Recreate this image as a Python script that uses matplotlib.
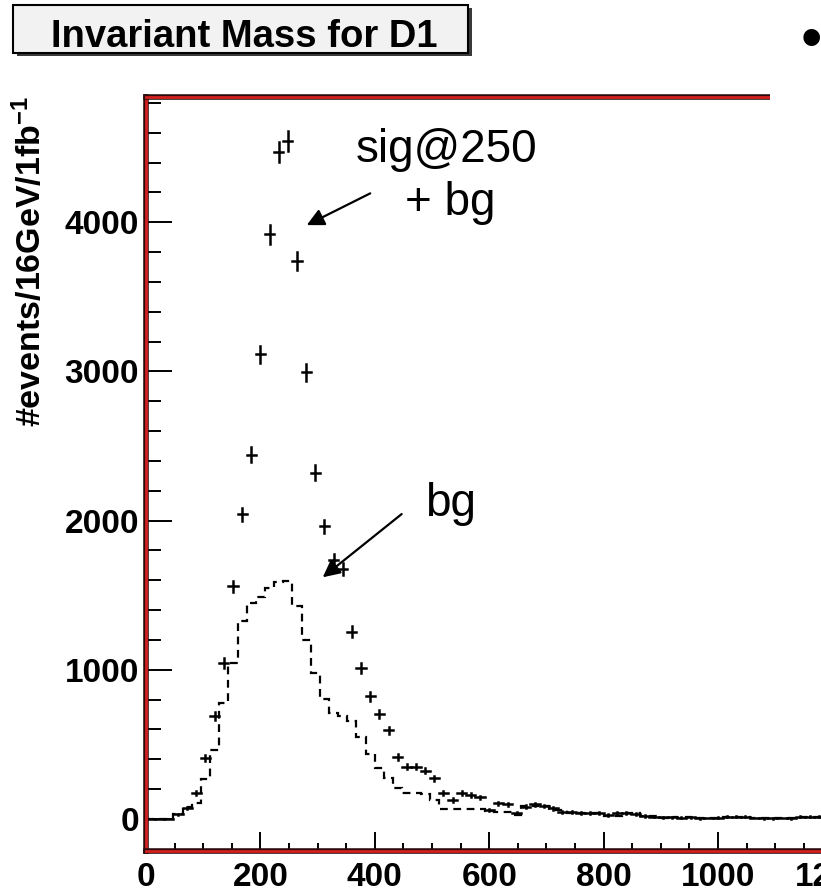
import matplotlib
matplotlib.use("Agg")
import matplotlib.pyplot as plt
import matplotlib.patheffects as pe
from matplotlib.patches import Rectangle
import numpy as np

plt.rcParams['font.family'] = ['Liberation Sans', 'DejaVu Sans']
plt.rcParams['mathtext.default'] = 'regular'

W, H = 821, 892

# 16 GeV bins from 0 to 1200 GeV
bin_edges = np.arange(0, 1200 + 16, 16)

# background only (dashed histogram)
bg = [0, 0, 0, 35, 80, 105, 270, 465, 780, 1045,
      1330, 1450, 1490, 1548, 1586, 1595, 1425, 1200, 980, 805,
      713, 690, 655, 548, 434, 340, 277, 210, 177, 177,
      170, 128, 65, 65, 65, 65, 65, 50, 49, 49,
      27, 85, 85, 85, 60, 60, 38, 38, 38, 38,
      20, 20, 38, 38, 20, 20, 9, 12, 9, 12,
      5, 5, 5, 15, 15, 15, 5, 5, 5, 5,
      5, 15, 15, 15, 15]

# signal at 250 GeV plus background (points with errors)
sig_bg = [0, 0, 0, 30, 72, 172, 407, 691, 1045, 1559,
          2042, 2443, 3114, 3919, 4472, 4546, 3740, 2993, 2322, 1962,
          1734, 1676, 1255, 1011, 821, 705, 593, 414, 351, 351,
          324, 273, 172, 128, 172, 160, 145, 60, 105, 100,
          38, 82, 100, 87, 70, 45, 45, 40, 40, 38,
          27, 40, 42, 35, 20, 15, 10, 12, 8, 12,
          5, 6, 8, 15, 14, 15, 6, 5, 5, 6,
          5, 14, 15, 15, 14]

bin_centers = bin_edges[:-1] + 8
sig_bg = np.array(sig_bg, dtype=float)


def fig_xy(x, y):
    # pixel position (from top-left) -> figure fraction
    return x / W, 1 - y / H


fig = plt.figure(figsize=(W / 100, H / 100), dpi=100)
ax_left, ax_top = fig_xy(146, 97)
_, ax_bottom = fig_xy(146, 851)
ax = fig.add_axes([ax_left, ax_bottom, 1600 * 0.572 / W, ax_top - ax_bottom])

ax.stairs(bg, bin_edges, color='black', lw=1.6, linestyle=(0, (3.5, 2.5)), baseline=None)
eb = ax.errorbar(bin_centers, sig_bg, xerr=8, yerr=np.sqrt(sig_bg), fmt='none',
                 ecolor='black', elinewidth=1.8, capsize=0)
for coll in eb[2]:
    coll.set_capstyle('projecting')

ax.set_xlim(0, 1600)
ax.set_ylim(-215, 4840)

ax.set_xticks(np.arange(0, 1601, 200))
ax.set_xticks(np.arange(0, 1601, 50), minor=True)
ax.set_yticks(np.arange(0, 4001, 1000))
ax.set_yticks(np.arange(0, 4801, 200), minor=True)
ax.tick_params(axis='both', which='both', direction='in', width=1.4, colors='black')
ax.tick_params(axis='x', which='major', length=14, pad=8, labelsize=24)
ax.tick_params(axis='x', which='minor', length=6)
ax.tick_params(axis='y', which='major', length=19, pad=5, labelsize=24)
ax.tick_params(axis='y', which='minor', length=11)
for lab in ax.get_xticklabels() + ax.get_yticklabels():
    lab.set_fontweight('bold')

# red frame with dark edges
for side in ['left', 'top', 'bottom']:
    sp = ax.spines[side]
    sp.set_color('#d42020')
    sp.set_linewidth(2)
    sp.set_path_effects([pe.Stroke(linewidth=4, foreground='#2a0a0a'), pe.Normal()])
ax.spines['right'].set_visible(False)

# y axis title
x0, y0 = fig_xy(30, 96)
fig.text(x0, y0, '#events/16GeV/1fb$^{-1}$', rotation=90, ha='center', va='top',
         fontsize=24.5, fontweight='bold')

# histogram title box with shadow
bx, by = fig_xy(13, 53)
bw, bh = 455 / W, 48 / H
fig.patches.append(Rectangle((bx + 4 / W, by - 3 / H), bw, bh, transform=fig.transFigure,
                             facecolor='#3a3a3a', edgecolor='none', zorder=1))
fig.patches.append(Rectangle((bx, by), bw, bh, transform=fig.transFigure,
                             facecolor='#f2f2f2', edgecolor='black', lw=1.5, zorder=2))
tx, ty = fig_xy(244, 47)
fig.text(tx, ty, 'Invariant Mass for D1', ha='center', va='baseline',
         fontsize=27.5, fontweight='bold', zorder=3)

# the top frame is cut off at the right by the slide's text box
mx, my = fig_xy(770, 115)
fig.patches.append(Rectangle((mx, my), 1 - mx, 1 - my, transform=fig.transFigure,
                             facecolor='white', edgecolor='none', zorder=5))
bx2, by2 = fig_xy(811, 42)
fig.text(bx2, by2, '\u2022', ha='center', va='center', fontsize=44, zorder=6)

# annotations
ax.text(367, 4405, 'sig@250', fontsize=33, va='baseline', ha='left')
ax.text(453, 4047, '+ bg', fontsize=33, va='baseline', ha='left')
ax.annotate('', xy=(281, 3981), xytext=(392, 4194),
            arrowprops=dict(arrowstyle='-|>', color='black', lw=1.6,
                            mutation_scale=26, shrinkA=0, shrinkB=0))
ax.text(488, 2030, 'bg', fontsize=33, va='baseline', ha='left')
ax.annotate('', xy=(309, 1620), xytext=(447, 2044),
            arrowprops=dict(arrowstyle='-|>', color='black', lw=1.6,
                            mutation_scale=26, shrinkA=0, shrinkB=0))

fig.savefig('out.png', dpi=100)
